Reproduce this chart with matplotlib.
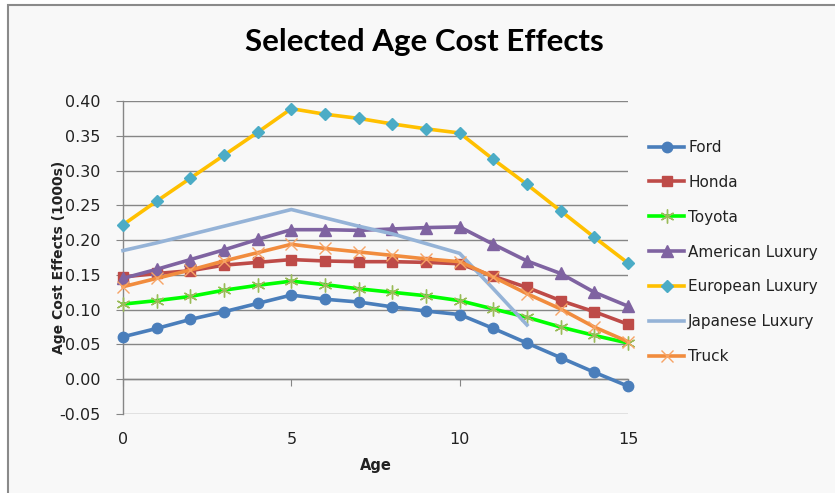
import matplotlib
matplotlib.use("Agg")
import matplotlib.pyplot as plt
from matplotlib.patches import Rectangle

ages = list(range(16))

ford = [0.061, 0.073, 0.086, 0.097, 0.109, 0.121, 0.115, 0.111,
        0.104, 0.098, 0.093, 0.073, 0.052, 0.031, 0.010, -0.010]
honda = [0.147, 0.152, 0.156, 0.164, 0.168, 0.172, 0.170, 0.169,
         0.169, 0.168, 0.166, 0.148, 0.132, 0.113, 0.097, 0.079]
toyota = [0.108, 0.113, 0.119, 0.128, 0.135, 0.141, 0.136, 0.130,
          0.125, 0.120, 0.113, 0.101, 0.089, 0.075, 0.063, 0.052]
american = [0.145, 0.158, 0.172, 0.186, 0.201, 0.215, 0.215, 0.214,
            0.216, 0.218, 0.219, 0.194, 0.170, 0.152, 0.125, 0.105]
european = [0.222, 0.256, 0.289, 0.322, 0.355, 0.389, 0.381, 0.375,
            0.367, 0.360, 0.354, 0.316, 0.280, 0.242, 0.204, 0.167]
japanese_ages = list(range(13))
japanese = [0.185, 0.196, 0.208, 0.220, 0.232, 0.244, 0.232, 0.220,
            0.209, 0.195, 0.181, 0.130, 0.078]
truck = [0.133, 0.145, 0.157, 0.170, 0.182, 0.194, 0.188, 0.183,
         0.178, 0.173, 0.169, 0.147, 0.123, 0.101, 0.075, 0.054]

yticks = [-0.05, 0.0, 0.05, 0.10, 0.15, 0.20, 0.25, 0.30, 0.35, 0.40]
xticks = [0, 5, 10, 15]

BG = "#F8F8F8"
GRID = "#868686"
TXT = "#222222"

fig = plt.figure(figsize=(8.35, 4.93), dpi=100)
fig.patch.set_facecolor("white")
# chart area with a border on the left/top edges (the rest runs off the image)
fig.patches.append(Rectangle((7.5 / 835, -0.05), 1.1, 1.05 - 4.5 / 493,
                             transform=fig.transFigure, facecolor=BG,
                             edgecolor="#8a8a8a", linewidth=1.5, zorder=-10))

ax = fig.add_axes([123 / 835, 79 / 493, 505 / 835, 313 / 493])
ax.set_facecolor("none")

series = [
    ("Ford", ages, ford, dict(color="#4A7EBB", marker="o", ms=7.5,
                              mfc="#4A7EBB", mec="#4A7EBB")),
    ("Honda", ages, honda, dict(color="#BE4B48", marker="s", ms=7,
                                mfc="#BE4B48", mec="#BE4B48")),
    ("Toyota", ages, toyota, dict(color="#00FF00", marker=(6, 2, 0), ms=10,
                                  mfc="#9BBB59", mec="#9BBB59", mew=1.0)),
    ("American Luxury", ages, american, dict(color="#7F63A1", marker="^", ms=8,
                                             mfc="#7F63A1", mec="#7F63A1")),
    ("European Luxury", ages, european, dict(color="#FFC000", marker="D", ms=6.5,
                                             mfc="#4BACC6", mec="#4BACC6")),
    ("Japanese Luxury", japanese_ages, japanese, dict(color="#95B3D7")),
    ("Truck", ages, truck, dict(color="#F18C3E", marker="x", ms=8,
                                mfc="#F79646", mec="#F7A465", mew=1.0)),
]
for name, xs, ys, style in series:
    ax.plot(xs, ys, label=name, lw=2.6, clip_on=False, zorder=3, **style)

ax.set_xlim(0, 15)
ax.set_ylim(-0.05, 0.40)
ax.set_yticks(yticks)
ax.set_yticklabels([f"{v:.2f}" for v in yticks])
ax.yaxis.grid(True, color=GRID, linewidth=1.0)
ax.set_axisbelow(True)

for side in ("top", "right", "bottom"):
    ax.spines[side].set_visible(False)
ax.spines["left"].set_color(GRID)
ax.spines["left"].set_linewidth(1.0)
ax.tick_params(axis="y", direction="out", length=5, color=GRID,
               labelsize=11.5, pad=11, labelcolor=TXT)

# primary x: labels only, below the -0.05 line
ax.set_xticks(xticks)
ax.tick_params(axis="x", length=0, labelsize=11.5, pad=13, labelcolor=TXT)

# axis line crossing at y = 0 with tick marks
zero_pos = (0 - (-0.05)) / 0.45
sec = ax.secondary_xaxis(zero_pos)
sec.set_xticks(xticks)
sec.set_xticklabels([])
sec.tick_params(axis="x", direction="out", length=5, color=GRID)
sec.spines["bottom"].set_color(GRID)
sec.spines["bottom"].set_linewidth(1.0)

ax.set_xlabel("Age", fontsize=10.5, fontweight="bold", labelpad=8, color=TXT)
ax.set_ylabel("Age Cost Effects (1000s)", fontsize=10, fontweight="bold",
              labelpad=-5, color=TXT)

fig.text(424 / 835, 1 - 42 / 493, "Selected Age Cost Effects",
         ha="center", va="center", fontsize=22.5, fontweight="bold",
         family=["Lato", "DejaVu Sans"])

ax.legend(loc="upper left", bbox_to_anchor=(1.03, 0.895), frameon=False,
          fontsize=11, labelspacing=1.3, handlelength=2.3,
          handletextpad=0.25, borderaxespad=0, labelcolor=TXT)

fig.savefig("out.png", dpi=100)
